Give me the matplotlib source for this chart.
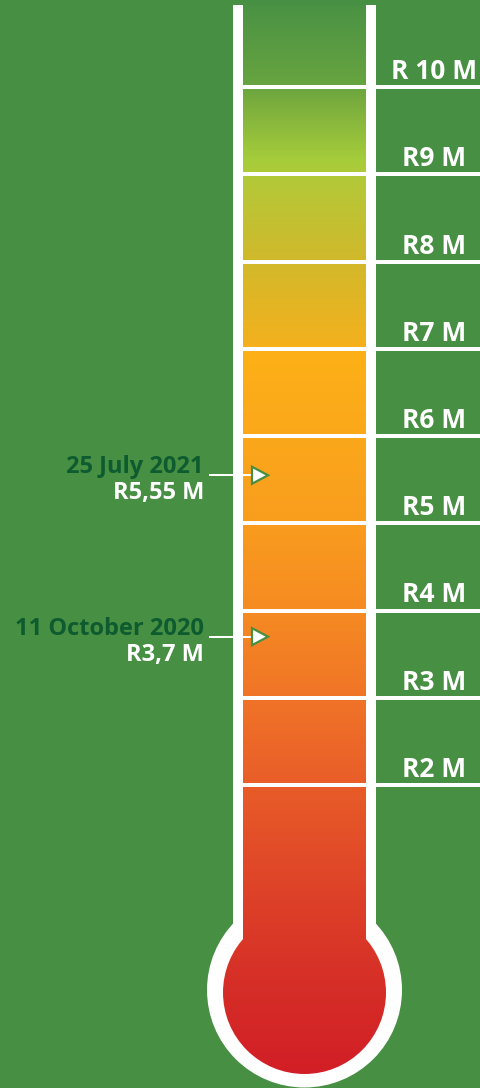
import matplotlib
matplotlib.use('Agg')
import matplotlib.pyplot as plt
import numpy as np
from matplotlib.patches import Rectangle, Ellipse, Polygon
from matplotlib.colors import to_rgb

# ---- data ----
levels = [10, 9, 8, 7, 6, 5, 4, 3, 2]
level_labels = ["R 10 M", "R9 M", "R8 M", "R7 M", "R6 M", "R5 M", "R4 M", "R3 M", "R2 M"]
milestone_dates = ["25 July 2021", "11 October 2020"]
milestone_amounts = [5.55, 3.7]
milestone_labels = ["R5,55 M", "R3,7 M"]

# ---- layout ----
W, H = 481, 1088
BG = '#478F43'
DARK = '#0E5B2F'
FONT = 'Open Sans'
PX_PER_M = 87.25
Y2_PX = 785


def v_at(py):
    return 2 + (Y2_PX - py) / PX_PER_M


def dv(px):
    return px / PX_PER_M


fig = plt.figure(figsize=(W / 100, H / 100), dpi=100)
fig.patch.set_facecolor(BG)
ax = fig.add_axes([0, 0, 1, 1])
ax.set_xlim(0, W)
ax.set_ylim(v_at(H), v_at(0))
ax.axis('off')
ax.set_facecolor(BG)

TOP = 5
# white outer tube + bulb
ax.add_patch(Rectangle((233, v_at(990)), 143, v_at(TOP) - v_at(990),
                       facecolor='white', edgecolor='none', zorder=1))
ax.add_patch(Ellipse((304.5, v_at(990)), 195, dv(195),
                     facecolor='white', edgecolor='none', zorder=1))

# gradient
stops = [(5, '#4A9244'), (85, '#68A440'), (100, '#78AC3E'), (160, '#A6CD3A'),
         (178, '#B3C938'), (255, '#CFBA2C'), (340, '#F2B11E'), (352, '#FDB017'),
         (430, '#FBA81A'), (520, '#F99D1E'), (610, '#F68B22'), (700, '#F07327'),
         (790, '#E85B29'), (900, '#DD4028'), (1000, '#D52B27'), (1075, '#D21E26')]
rows = np.arange(TOP, 1076)
sp = np.array([s[0] for s in stops], float)
cols = np.array([to_rgb(s[1]) for s in stops])
img = np.stack([np.interp(rows, sp, cols[:, i]) for i in range(3)], axis=-1)[:, None, :]
img = np.repeat(img, 2, axis=1)

inner_rect = Rectangle((243, v_at(993)), 123, v_at(TOP) - v_at(993),
                       facecolor='none', edgecolor='none')
inner_circ = Ellipse((304.5, v_at(992.5)), 163, dv(163), facecolor='none', edgecolor='none')
ax.add_patch(inner_rect)
ax.add_patch(inner_circ)
for clip in (inner_rect, inner_circ):
    im = ax.imshow(img, extent=(220, 390, v_at(1076), v_at(TOP)), origin='upper',
                   aspect='auto', interpolation='bilinear', zorder=2)
    im.set_clip_path(clip)

# level lines and labels
for lv, lab in zip(levels, level_labels):
    ax.hlines(lv, 243, W, colors='white', linewidth=4 * 0.72, zorder=3)
    ax.text(434, lv + dv(8), lab, ha='center', va='baseline', color='white',
            fontsize=19, fontweight='bold', family=FONT, zorder=4)

# milestones
for date, amt, lab in zip(milestone_dates, milestone_amounts, milestone_labels):
    ax.text(204, amt + dv(2), date, ha='right', va='baseline', color=DARK,
            fontsize=17, fontweight='bold', family=FONT, zorder=4)
    ax.text(204, amt - dv(24), lab, ha='right', va='baseline', color='white',
            fontsize=17, fontweight='bold', family=FONT, zorder=4)
    ax.plot([209, 254], [amt, amt], color='white', linewidth=2 * 0.72,
            solid_capstyle='butt', zorder=4)
    ax.add_patch(Polygon([(252, amt + dv(8.5)), (268, amt), (252, amt - dv(8.5))],
                         closed=True, facecolor='white', edgecolor=BG,
                         linewidth=1.6, zorder=5))

fig.savefig('out.png', dpi=100, facecolor=BG)
